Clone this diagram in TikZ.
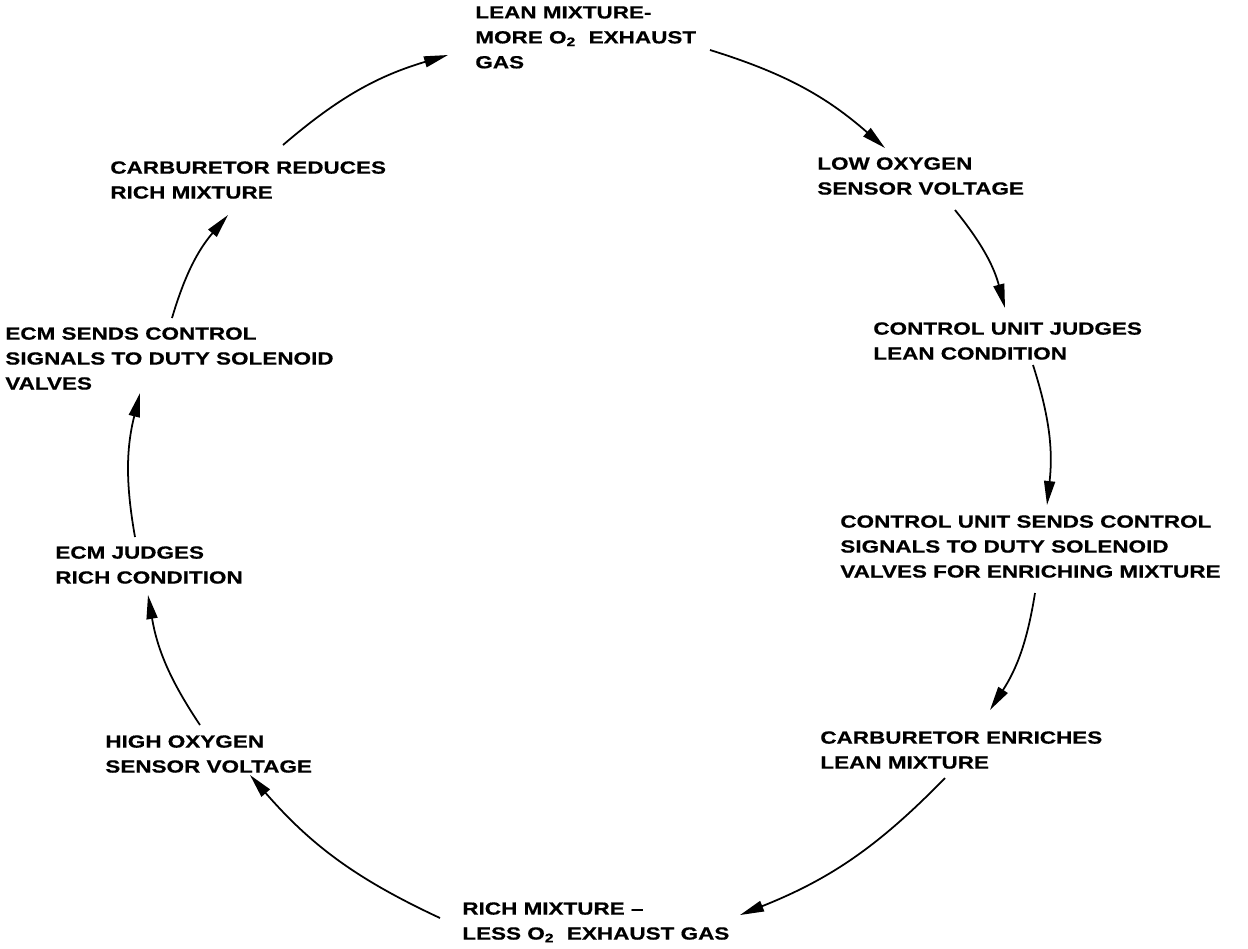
\documentclass[tikz,border=0pt]{standalone}
\usepackage{fontspec}
\newfontfamily\diagfont{Liberation Sans}[FakeStretch=1.28, FakeBold=0.6]
\usetikzlibrary{arrows.meta}

\begin{document}
\begin{tikzpicture}[
  x=0.02cm, y=0.02cm,
  font=\diagfont\bfseries\fontsize{10}{14.2}\selectfont,
  lbl/.style={anchor=north west, inner sep=0pt, align=left},
  arr/.style={-{Triangle[length=4.8mm,width=2.2mm]}, line width=1pt, bend left=12}
]
\useasboundingbox (0,0) rectangle (1248,-948);
\node[lbl] (txt-lean) at (475,-6) {LEAN MIXTURE-\\MORE O\textsubscript{2} \ EXHAUST\\GAS};
\node[lbl] (txt-lowvolt) at (817,-157) {LOW OXYGEN\\SENSOR VOLTAGE};
\node[lbl] (txt-cujudge) at (873,-322) {CONTROL UNIT JUDGES\\LEAN CONDITION};
\node[lbl] (txt-cusend) at (840,-515) {CONTROL UNIT SENDS CONTROL\\SIGNALS TO DUTY SOLENOID\\VALVES FOR ENRICHING MIXTURE};
\node[lbl] (txt-enrich) at (820,-731) {CARBURETOR ENRICHES\\LEAN MIXTURE};
\node[lbl] (txt-rich) at (462,-902) {RICH MIXTURE \textendash\\LESS O\textsubscript{2} \ EXHAUST GAS};
\node[lbl] (txt-highvolt) at (105,-735) {HIGH OXYGEN\\SENSOR VOLTAGE};
\node[lbl] (txt-ecmjudge) at (55,-546) {ECM JUDGES\\RICH CONDITION};
\node[lbl] (txt-ecmsend) at (5,-327) {ECM SENDS CONTROL\\SIGNALS TO DUTY SOLENOID\\VALVES};
\node[lbl] (txt-reduce) at (110,-161) {CARBURETOR REDUCES\\RICH MIXTURE};
\draw[arr] ([shift={(235,-44)}]txt-lean.north west) to ([shift={(68,9)}]txt-lowvolt.north west);
\draw[arr] ([shift={(138,-53)}]txt-lowvolt.north west) to ([shift={(132,14)}]txt-cujudge.north west);
\draw[arr] ([shift={(160,-43)}]txt-cujudge.north west) to ([shift={(207,10)}]txt-cusend.north west);
\draw[arr] ([shift={(195,-78)}]txt-cusend.north west) to ([shift={(170,21)}]txt-enrich.north west);
\draw[arr] ([shift={(125,-47)}]txt-enrich.north west) to ([shift={(278,-13)}]txt-rich.north west);
\draw[arr] ([shift={(-22,-16)}]txt-rich.north west) to ([shift={(145,-40)}]txt-highvolt.north west);
\draw[arr] ([shift={(95,10)}]txt-highvolt.north west) to ([shift={(93,-49)}]txt-ecmjudge.north west);
\draw[arr] ([shift={(80,9)}]txt-ecmjudge.north west) to ([shift={(135,-66)}]txt-ecmsend.north west);
\draw[arr] ([shift={(167,9)}]txt-ecmsend.north west) to ([shift={(118,-54)}]txt-reduce.north west);
\draw[arr] ([shift={(173,16)}]txt-reduce.north west) to ([shift={(-27,-49)}]txt-lean.north west);
\end{tikzpicture}
\end{document}
